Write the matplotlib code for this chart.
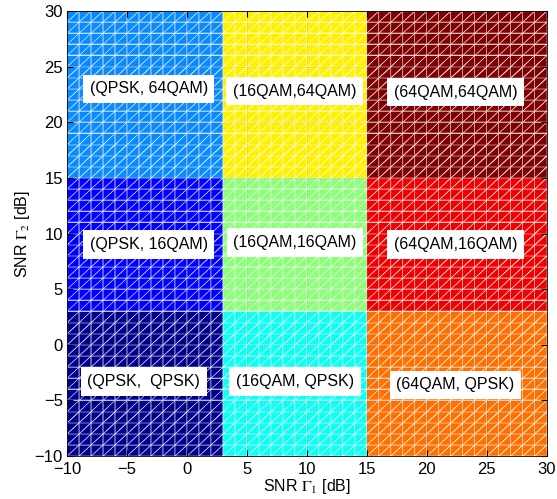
import numpy as np
import matplotlib
matplotlib.use('Agg')
import matplotlib.pyplot as plt
import matplotlib.tri as mtri
from matplotlib.colors import ListedColormap

plt.rcParams['font.family'] = ['Liberation Sans', 'DejaVu Sans']
plt.rcParams['mathtext.fontset'] = 'stix'

# region boundaries of the SNR plane (dB)
x_edges = [-10, 3, 15, 30]
y_edges = [-10, 3, 15, 30]
mods = ['QPSK', '16QAM', '64QAM']

# colour of each region, ordered (user-1 mod, user-2 mod)
region_colors = [
    '#00008C', '#0000FF', '#0A8AFF',   # QPSK x (QPSK, 16QAM, 64QAM)
    '#0CFFF2', '#8CFF78', '#FFF000',   # 16QAM x ...
    '#FF7000', '#F00000', '#800000',   # 64QAM x ...
]

label_text = ['(QPSK,  QPSK)', '(QPSK, 16QAM)', '(QPSK, 64QAM)',
              '(16QAM, QPSK)', '(16QAM,16QAM)', '(16QAM,64QAM)',
              '(64QAM, QPSK)', '(64QAM,16QAM)', '(64QAM,64QAM)']
label_x = [-3.6, -3.2, -3.2, 9.0, 9.0, 9.0, 22.4, 22.4, 22.4]
label_y = [-3.3, 9.0, 23.0, -3.3, 9.2, 22.8, -3.6, 9.0, 22.7]

# fine triangulated mesh (1 dB step), like the MATLAB surface
xs = np.arange(-10, 31, 1.0)
ys = np.arange(-10, 31, 1.0)
X, Y = np.meshgrid(xs, ys)
nx = len(xs)
tris = []
for j in range(len(ys) - 1):
    for i in range(nx - 1):
        a = j * nx + i
        b = a + 1
        c = a + nx + 1
        d = a + nx
        tris.append([a, b, c])
        tris.append([a, c, d])
tris = np.array(tris)
triang = mtri.Triangulation(X.ravel(), Y.ravel(), tris)

cx = X.ravel()[tris].mean(axis=1)
cy = Y.ravel()[tris].mean(axis=1)
ix = np.clip(np.searchsorted(x_edges, cx) - 1, 0, 2)
iy = np.clip(np.searchsorted(y_edges, cy) - 1, 0, 2)
codes = ix * 3 + iy

fig = plt.figure(figsize=(5.57, 4.99), dpi=100)
ax = fig.add_axes([0.1205, 0.086, 0.861, 0.892])

cmap = ListedColormap(region_colors)
ax.tripcolor(triang, facecolors=codes.astype(float), cmap=cmap,
             vmin=-0.5, vmax=8.5, edgecolors='#FFFFFF22',
             linewidth=0.35)

for t, lx, ly in zip(label_text, label_x, label_y):
    ax.text(lx, ly, t, ha='center', va='center', fontsize=11.5,
            bbox=dict(boxstyle='square,pad=0.42', facecolor='white',
                      edgecolor='none'))

ax.set_xlim(-10, 30)
ax.set_ylim(-10, 30)
ax.set_xticks(np.arange(-10, 31, 5))
ax.set_yticks(np.arange(-10, 31, 5))
ax.grid(True, linestyle=':', color='k', alpha=0.25, linewidth=0.6)
ax.set_axisbelow(False)
ax.tick_params(direction='in', top=True, right=True, length=4,
               labelsize=12, pad=3)
ax.tick_params(axis='x', pad=4)
for s in ax.spines.values():
    s.set_linewidth(0.6)

ax.set_xlabel(r'SNR $\Gamma_1$ [dB]', fontsize=11.5, labelpad=0)
ax.set_ylabel(r'SNR $\Gamma_2$ [dB]', fontsize=11.5, labelpad=2)

fig.savefig('out.png', dpi=100)
